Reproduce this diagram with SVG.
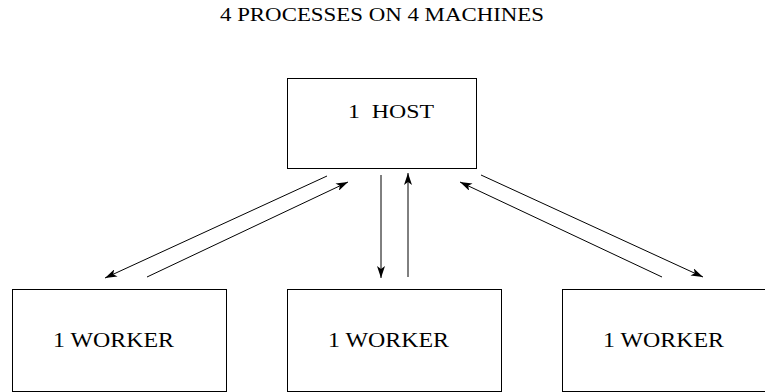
<svg xmlns="http://www.w3.org/2000/svg" width="765" height="392" viewBox="0 0 765 392">
<style>
.box{fill:#fff;stroke:#000;stroke-width:1}
.t{font-family:"Liberation Serif","Times New Roman",serif;fill:#000}
.c line{stroke:#000;stroke-width:1;fill:none}
</style>
<defs>
<marker id="ah" viewBox="0 0 12 8" refX="12" refY="4" markerWidth="12" markerHeight="8" markerUnits="userSpaceOnUse" orient="auto">
<path d="M0,0 L12,4 L0,8 L3,4 Z" fill="#000"/>
</marker>
</defs>
<rect width="765" height="392" fill="#fff"/>
<text class="t" x="220" y="21" font-size="18" textLength="324" lengthAdjust="spacingAndGlyphs">4 PROCESSES ON 4 MACHINES</text>
<g id="host">
<rect class="box" x="287.5" y="78.5" width="189" height="90"/>
<text class="t" x="348" y="118" font-size="19" textLength="86" lengthAdjust="spacingAndGlyphs" xml:space="preserve">1  HOST</text>
</g>
<g id="worker1">
<rect class="box" x="12.5" y="289.5" width="214" height="102"/>
<text class="t" x="53" y="347" font-size="21" textLength="121" lengthAdjust="spacingAndGlyphs">1 WORKER</text>
</g>
<g id="worker2">
<rect class="box" x="287.5" y="289.5" width="214" height="102"/>
<text class="t" x="328" y="347" font-size="21" textLength="121" lengthAdjust="spacingAndGlyphs">1 WORKER</text>
</g>
<g id="worker3">
<rect class="box" x="562.5" y="289.5" width="214" height="102"/>
<text class="t" x="603" y="347" font-size="21" textLength="121" lengthAdjust="spacingAndGlyphs">1 WORKER</text>
</g>
<g class="c" id="connectors">
<line x1="327" y1="176" x2="105" y2="278" marker-end="url(#ah)"/>
<line x1="147" y1="277" x2="348" y2="182" marker-end="url(#ah)"/>
<line x1="381" y1="175" x2="381" y2="278" marker-end="url(#ah)"/>
<line x1="408" y1="277" x2="408" y2="173" marker-end="url(#ah)"/>
<line x1="481" y1="175" x2="703" y2="277" marker-end="url(#ah)"/>
<line x1="662" y1="277" x2="460" y2="182" marker-end="url(#ah)"/>
</g>
</svg>
